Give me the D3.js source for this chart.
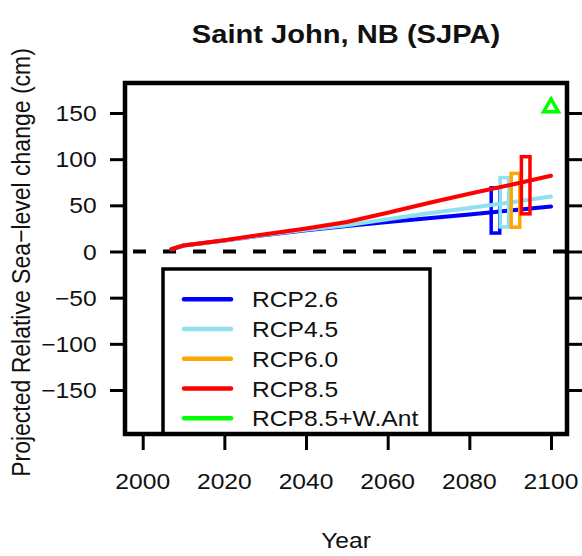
<!DOCTYPE html>
<html>
<head>
  <title>Saint John sea level</title>
  <script src="https://d3js.org/d3.v7.min.js"></script>
  <style type="text/css">
    body { margin: 0; background: #fff; }
    svg { font-family: "Liberation Sans", Arial, sans-serif; }
  </style>
</head>
<body>
<div id="chart"></div>
<script type="text/javascript">
  // values
  var years = [2007, 2010, 2020, 2030, 2040, 2050, 2060, 2070, 2080, 2090, 2100];
  var rcp26 = [2.4, 6.5, 12, 17.8, 23, 27.5, 32, 36, 40, 44.5, 48.7];
  var rcp45 = [2.4, 6.5, 12, 18, 23.5, 28.5, 35, 41.5, 47, 53, 59.6];
  var rcp85 = [2.4, 6.5, 12.3, 18.7, 25, 32, 42, 52.5, 62.5, 72, 82];

  // 2100 ranges, drawn a bit left of 2100
  var scenarios = ["RCP2.6", "RCP4.5", "RCP6.0", "RCP8.5", "RCP8.5+W.Ant"];
  var colors = ["#0000ff", "#8fe0f0", "#ffa500", "#ff0000", "#00ff00"];
  var boxYears = [2086.4, 2088.6, 2091.3, 2093.8];
  var boxLow = [20, 26.6, 26.3, 40.8];
  var boxHigh = [69, 80, 84.6, 102.7];
  var wantYear = 2100, wantValue = 157;

  var xTicks = [2000, 2020, 2040, 2060, 2080, 2100];
  var yTicks = [-150, -100, -50, 0, 50, 100, 150];

  var W = 582, H = 556;
  var pLeft = 125, pRight = 567, pTop = 83, pBottom = 434;
  var sx = 1.12; // picture text is a little wide

  var x = d3.scaleLinear().domain([2000, 2100]).range([142.7, 551]);
  var y = d3.scaleLinear().domain([0, 150]).range([251.5, 113]);

  var svg = d3.select("#chart").append("svg")
    .attr("width", W).attr("height", H);

  function txt(px, py, s, size, anchor, weight) {
    return svg.append("text")
      .attr("transform", "translate(" + px + "," + py + ") scale(" + sx + ",1)")
      .attr("text-anchor", anchor)
      .attr("font-size", size)
      .attr("font-weight", weight || "normal")
      .attr("fill", "#111")
      .text(s);
  }

  // zero line
  svg.append("line")
    .attr("x1", pLeft).attr("x2", pRight)
    .attr("y1", y(0)).attr("y2", y(0))
    .attr("stroke", "#000").attr("stroke-width", 4)
    .attr("stroke-dasharray", "13,17").attr("stroke-dashoffset", 22);

  var line = d3.line()
    .x(function (d) { return x(d[0]); })
    .y(function (d) { return y(d[1]); });

  function drawBox(i) {
    var hw = 1.05;
    svg.append("rect")
      .attr("x", x(boxYears[i] - hw))
      .attr("width", x(boxYears[i] + hw) - x(boxYears[i] - hw))
      .attr("y", y(boxHigh[i]))
      .attr("height", y(boxLow[i]) - y(boxHigh[i]))
      .attr("fill", "none").attr("stroke", colors[i]).attr("stroke-width", 3.5);
  }
  function drawLine(vals, i) {
    svg.append("path")
      .datum(d3.zip(years, vals))
      .attr("d", line)
      .attr("fill", "none").attr("stroke", colors[i])
      .attr("stroke-width", 4).attr("stroke-linecap", "round");
  }

  drawLine(rcp26, 0); drawBox(0);
  drawLine(rcp45, 1); drawBox(1);
  drawBox(2);
  drawLine(rcp85, 3); drawBox(3);

  // W. Antarctic point (open triangle)
  svg.append("path")
    .attr("d", d3.symbol().type(d3.symbolTriangle).size(95))
    .attr("transform", "translate(" + x(wantYear) + "," + (y(wantValue) + 1) + ")")
    .attr("fill", "none").attr("stroke", colors[4]).attr("stroke-width", 3.5);

  // legend
  var lg = svg.append("g");
  lg.append("rect")
    .attr("x", 163).attr("y", 269).attr("width", 267).attr("height", pBottom - 269)
    .attr("fill", "#fff").attr("stroke", "#000").attr("stroke-width", 3.5);
  scenarios.forEach(function (s, i) {
    var ly = 299.3 + i * 29.75;
    lg.append("line").attr("x1", 184).attr("x2", 231).attr("y1", ly).attr("y2", ly)
      .attr("stroke", colors[i]).attr("stroke-width", 4.5).attr("stroke-linecap", "round");
    txt(252, ly + 8, s, 22, "start");
  });

  // plot frame
  svg.append("rect")
    .attr("x", pLeft).attr("y", pTop)
    .attr("width", pRight - pLeft).attr("height", pBottom - pTop)
    .attr("fill", "none").attr("stroke", "#000").attr("stroke-width", 4.5);

  // axes
  var xAxis = svg.append("g")
    .attr("transform", "translate(0," + pBottom + ")")
    .call(d3.axisBottom(x).tickValues(xTicks).tickSize(16).tickFormat(""));
  var yAxis = svg.append("g")
    .attr("transform", "translate(" + pLeft + ",0)")
    .call(d3.axisLeft(y).tickValues(yTicks).tickSize(15).tickFormat(""));
  var yAxisR = svg.append("g")
    .attr("transform", "translate(" + pRight + ",0)")
    .call(d3.axisRight(y).tickValues(yTicks).tickSize(15).tickFormat(""));
  [xAxis, yAxis, yAxisR].forEach(function (a) {
    a.select(".domain").remove();
    a.selectAll(".tick line").attr("stroke", "#000").attr("stroke-width", 3);
  });

  xTicks.forEach(function (t) { txt(x(t), 489, String(t), 22, "middle"); });
  yTicks.forEach(function (t) {
    txt(96.7, y(t) + 8, String(t).replace("-", "\u2212"), 22, "end");
  });

  // titles
  txt(346, 43, "Saint John, NB (SJPA)", 26, "middle", "bold");
  txt(346, 548, "Year", 22, "middle");
  svg.append("text")
    .attr("transform", "translate(30," + ((pTop + pBottom) / 2 + 4) + ") rotate(-90) scale(1," + sx + ")")
    .attr("text-anchor", "middle").attr("font-size", 23).attr("fill", "#111")
    .text("Projected Relative Sea\u2212level change (cm)");
</script>
</body>
</html>
